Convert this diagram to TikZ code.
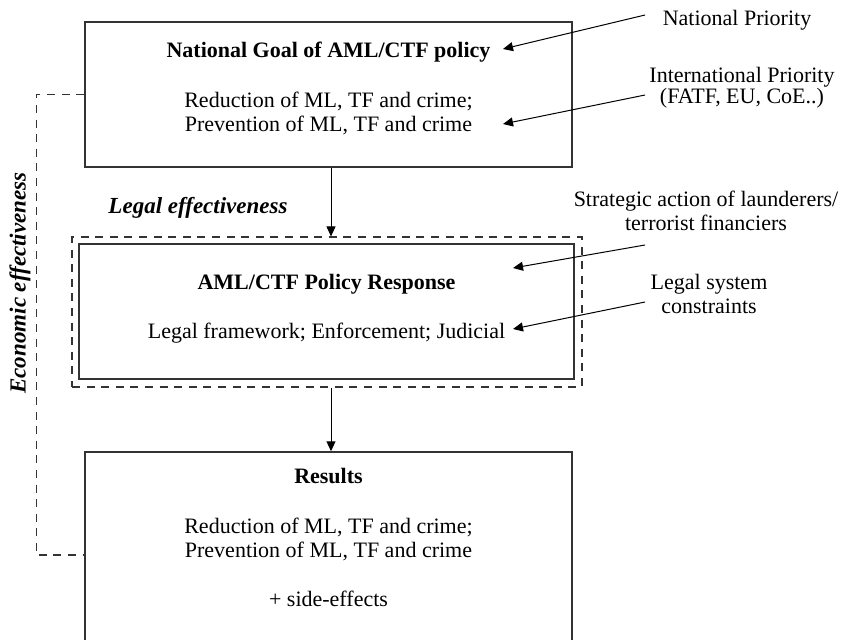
\documentclass[tikz,border=0pt]{standalone}
\usepackage{fontspec}
\setmainfont{Liberation Serif}
\usetikzlibrary{arrows.meta, calc}

\begin{document}
\begin{tikzpicture}[x=0.5pt, y=-0.5pt,
  box/.style={draw=black!80, line width=0.75pt, inner sep=0pt},
  txt/.style={font=\fontsize{11}{12}\selectfont, anchor=base, inner sep=0pt, align=center},
  ttl/.style={txt, font=\fontsize{11}{12}\selectfont\bfseries},
  effect/.style={font=\fontsize{11.5}{12}\selectfont\bfseries\itshape, inner sep=0pt},
  arr/.style={-{Triangle[length=5pt, width=4.5pt]}, line width=0.5pt},
  dashline/.style={draw=black!80, line width=0.6pt, dash pattern=on 4pt off 3.3pt}]
  \useasboundingbox (0,0) rectangle (841,639);
  \clip (0,0) rectangle (841,639);
  % Boxes
  \node[box, minimum width=243.5pt, minimum height=72.5pt] (goal) at (328.5,94.5) {};
  \node[box, minimum width=247.5pt, minimum height=67.5pt] (resp) at (326.5,311.5) {};
  \node[dashline, minimum width=255pt, minimum height=75pt, inner sep=0pt] (frame) at (327,312) {};
  \node[box, minimum width=243.5pt, minimum height=103pt] (results) at (328.5,555) {};
  % Box texts (base = last line)
  \node[ttl] (goalT) at (328.5,57) {National Goal of AML/CTF policy};
  \node[txt] (goalD) at (328.5,131) {Reduction of ML, TF and crime;\\Prevention of ML, TF and crime};
  \node[ttl] (respT) at (326.5,289) {AML/CTF Policy Response};
  \node[txt] (respD) at (326.5,338) {Legal framework; Enforcement; Judicial};
  \node[ttl] (resT) at (328.5,483) {Results};
  \node[txt] (resD) at (328.5,557) {Reduction of ML, TF and crime;\\Prevention of ML, TF and crime};
  \node[txt] (side) at (328.5,606) {+ side-effects};
  % Effectiveness labels
  \node[effect, anchor=base] (legEff) at (198,213) {Legal effectiveness};
  \node[effect, rotate=90] (ecoEff) at (20,283) {Economic effectiveness};
  \draw[dashline] (goal.west) -- ++(-48,0) |- (results.west);
  % Flow arrows
  \coordinate (axis) at (331,0);
  \draw[arr] (goal.south -| axis) -- (frame.north -| axis);
  \draw[arr] (frame.south -| axis) -- (results.north -| axis);
  % Outside influences
  \node[txt] (natP) at (737,25) {National Priority};
  \node[txt, font=\fontsize{11}{10.5}\selectfont] (intP) at (742,103.3) {International Priority\\(FATF, EU, CoE..)};
  \node[txt] (strat) at (706,230) {Strategic action of launderers/\\terrorist financiers};
  \node[txt] (legSys) at (709,313) {Legal system\\constraints};
  \coordinate (natFrom) at (645,15);
  \coordinate (natTo) at (503,49);
  \coordinate (intFrom) at (645,95);
  \coordinate (intTo) at (503,124);
  \coordinate (stratFrom) at (645,245);
  \coordinate (stratTo) at (513,268);
  \coordinate (legFrom) at (645,302);
  \coordinate (legTo) at (513,329);
  \draw[arr] (natFrom) -- (natTo);
  \draw[arr] (intFrom) -- (intTo);
  \draw[arr] (stratFrom) -- (stratTo);
  \draw[arr] (legFrom) -- (legTo);
\end{tikzpicture}
\end{document}
